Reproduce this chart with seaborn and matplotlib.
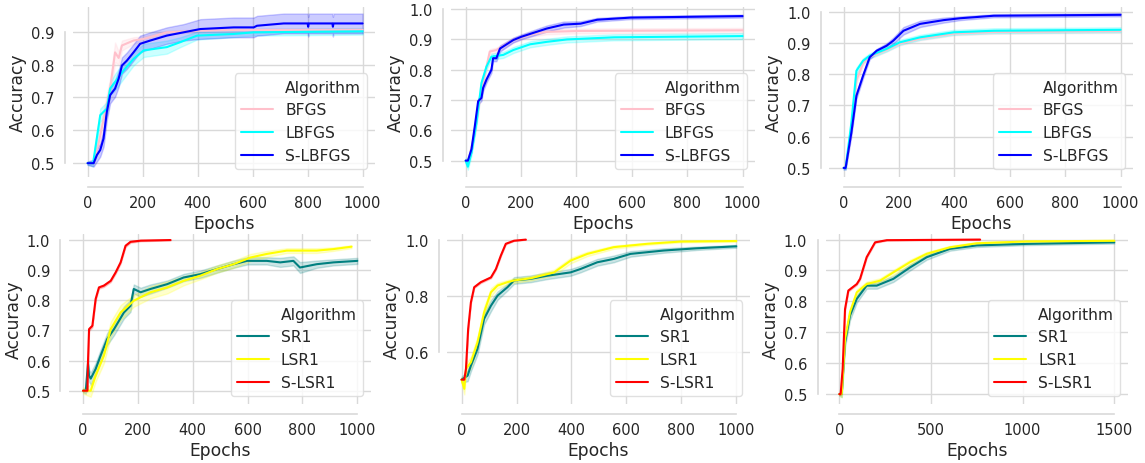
import numpy as np
import pandas as pd
import matplotlib
matplotlib.use("Agg")
import matplotlib.pyplot as plt
from matplotlib.lines import Line2D
import seaborn as sns

# ---------------- data ----------------
# Panel 1 (top-left)
p1_bfgs_x = [0, 20, 40, 60, 82, 100, 113, 125, 167, 204, 288, 410, 600, 1000]
p1_bfgs_y = [0.5, 0.5, 0.56, 0.64, 0.727, 0.837, 0.82, 0.858, 0.873, 0.878, 0.898, 0.903, 0.905, 0.906]
p1_bfgs_s = [0.005, 0.01, 0.02, 0.03, 0.03, 0.03, 0.02, 0.015, 0.01, 0.008, 0.005, 0.004, 0.004, 0.004]
p1_lbfgs_x = [0, 20, 46, 70, 82, 100, 131, 167, 204, 288, 337, 398, 531, 604, 1000]
p1_lbfgs_y = [0.5, 0.5, 0.646, 0.666, 0.727, 0.747, 0.782, 0.817, 0.843, 0.853, 0.868, 0.888, 0.893, 0.898, 0.901]
p1_lbfgs_s = [0.005, 0.01, 0.02, 0.02, 0.02, 0.025, 0.025, 0.02, 0.02, 0.02, 0.015, 0.012, 0.01, 0.01, 0.01]
p1_slbfgs_x = [0, 22, 34, 46, 58, 70, 82, 100, 113, 125, 143, 167, 191, 228, 288, 349, 410, 531, 604, 616, 713, 800, 802, 804, 890, 892, 894, 1000]
p1_slbfgs_y = [0.5, 0.5, 0.525, 0.54, 0.575, 0.656, 0.707, 0.727, 0.757, 0.797, 0.812, 0.837, 0.863, 0.873, 0.888, 0.898, 0.908, 0.913, 0.913, 0.918, 0.925, 0.925, 0.915, 0.925, 0.925, 0.915, 0.925, 0.925]
p1_slbfgs_s = [0.005, 0.01, 0.02, 0.02, 0.025, 0.025, 0.025, 0.025, 0.025, 0.025, 0.025, 0.025, 0.025, 0.025, 0.025, 0.025, 0.03, 0.03, 0.03, 0.03, 0.03, 0.03, 0.03, 0.03, 0.03, 0.03, 0.03, 0.03]

# Panel 2 (top-middle)
p2_bfgs_x = [0, 10, 33, 51, 75, 87, 111, 172, 233, 293, 415, 1000]
p2_bfgs_y = [0.5, 0.5, 0.593, 0.70, 0.81, 0.86, 0.865, 0.898, 0.916, 0.925, 0.928, 0.930]
p2_bfgs_s = [0.005, 0.01, 0.01, 0.01, 0.01, 0.008, 0.008, 0.008, 0.008, 0.008, 0.008, 0.008]
p2_lbfgs_x = [0, 8, 21, 39, 57, 75, 93, 136, 172, 233, 293, 366, 536, 1000]
p2_lbfgs_y = [0.5, 0.48, 0.527, 0.625, 0.756, 0.81, 0.843, 0.849, 0.865, 0.884, 0.892, 0.90, 0.907, 0.911]
p2_lbfgs_s = [0.01, 0.01, 0.01, 0.01, 0.01, 0.01, 0.01, 0.01, 0.01, 0.01, 0.01, 0.01, 0.01, 0.01]
p2_slbfgs_x = [0, 8, 21, 33, 45, 57, 63, 75, 93, 99, 111, 124, 172, 202, 293, 354, 415, 475, 596, 1000]
p2_slbfgs_y = [0.5, 0.5, 0.538, 0.614, 0.696, 0.707, 0.74, 0.767, 0.80, 0.838, 0.838, 0.87, 0.898, 0.909, 0.936, 0.949, 0.952, 0.965, 0.972, 0.977]
p2_slbfgs_s = [0.005, 0.005, 0.01, 0.01, 0.01, 0.01, 0.01, 0.01, 0.01, 0.01, 0.01, 0.01, 0.008, 0.008, 0.01, 0.01, 0.008, 0.006, 0.005, 0.005]

# Panel 3 (top-right)
p3_bfgs_x = [0, 7, 28, 46, 70, 94, 155, 203, 276, 397, 542, 1000]
p3_bfgs_y = [0.5, 0.5, 0.62, 0.78, 0.835, 0.855, 0.878, 0.898, 0.914, 0.930, 0.935, 0.938]
p3_bfgs_s = [0.005, 0.005, 0.01, 0.01, 0.008, 0.006, 0.006, 0.006, 0.006, 0.006, 0.006, 0.006]
p3_lbfgs_x = [0, 7, 28, 46, 70, 94, 155, 203, 276, 397, 542, 1000]
p3_lbfgs_y = [0.5, 0.5, 0.646, 0.811, 0.843, 0.859, 0.881, 0.902, 0.918, 0.934, 0.939, 0.942]
p3_lbfgs_s = [0.005, 0.005, 0.01, 0.01, 0.008, 0.008, 0.008, 0.008, 0.008, 0.008, 0.008, 0.008]
p3_slbfgs_x = [0, 7, 28, 46, 70, 94, 119, 155, 179, 216, 276, 361, 421, 542, 1000]
p3_slbfgs_y = [0.5, 0.5, 0.614, 0.731, 0.795, 0.854, 0.875, 0.891, 0.907, 0.939, 0.961, 0.973, 0.979, 0.987, 0.99]
p3_slbfgs_s = [0.005, 0.005, 0.01, 0.01, 0.008, 0.006, 0.006, 0.008, 0.01, 0.012, 0.01, 0.008, 0.006, 0.005, 0.005]

# Panel 4 (bottom-left)
p4_sr1_x = [0, 10, 18, 22, 28, 46, 64, 88, 113, 149, 173, 185, 210, 246, 307, 367, 428, 489, 549, 598, 670, 719, 767, 791, 852, 913, 1000]
p4_sr1_y = [0.5, 0.5, 0.59, 0.55, 0.54, 0.572, 0.616, 0.671, 0.704, 0.759, 0.781, 0.837, 0.826, 0.837, 0.853, 0.875, 0.886, 0.903, 0.919, 0.93, 0.93, 0.925, 0.93, 0.908, 0.919, 0.925, 0.93]
p4_sr1_s = [0.005, 0.01, 0.02, 0.02, 0.02, 0.02, 0.02, 0.02, 0.02, 0.02, 0.02, 0.015, 0.015, 0.015, 0.012, 0.012, 0.012, 0.012, 0.012, 0.012, 0.012, 0.015, 0.015, 0.018, 0.012, 0.01, 0.01]
p4_lsr1_x = [0, 28, 46, 76, 101, 137, 185, 246, 307, 367, 428, 489, 549, 610, 670, 743, 852, 913, 979]
p4_lsr1_y = [0.5, 0.5, 0.55, 0.616, 0.704, 0.759, 0.798, 0.826, 0.842, 0.864, 0.881, 0.903, 0.919, 0.941, 0.953, 0.964, 0.964, 0.969, 0.977]
p4_lsr1_s = [0.01, 0.02, 0.02, 0.025, 0.025, 0.025, 0.02, 0.02, 0.02, 0.015, 0.012, 0.012, 0.012, 0.012, 0.01, 0.008, 0.008, 0.006, 0.005]
p4_slsr1_x = [0, 16, 18, 22, 34, 46, 58, 76, 101, 119, 137, 155, 173, 210, 319]
p4_slsr1_y = [0.5, 0.5, 0.594, 0.704, 0.715, 0.804, 0.842, 0.848, 0.864, 0.892, 0.925, 0.98, 0.993, 0.997, 0.999]
p4_slsr1_s = [0.002, 0.002, 0.005, 0.005, 0.005, 0.005, 0.004, 0.004, 0.004, 0.004, 0.004, 0.004, 0.003, 0.002, 0.001]

# Panel 5 (bottom-middle)
p5_sr1_x = [0, 22, 34, 58, 82, 107, 131, 167, 191, 252, 312, 397, 433, 494, 554, 615, 736, 857, 1000]
p5_sr1_y = [0.5, 0.514, 0.55, 0.61, 0.717, 0.764, 0.80, 0.83, 0.854, 0.86, 0.871, 0.883, 0.895, 0.919, 0.931, 0.949, 0.961, 0.969, 0.976]
p5_sr1_s = [0.01, 0.02, 0.02, 0.02, 0.02, 0.02, 0.015, 0.012, 0.012, 0.012, 0.012, 0.012, 0.012, 0.012, 0.012, 0.01, 0.008, 0.006, 0.005]
p5_lsr1_x = [0, 10, 16, 34, 58, 82, 107, 131, 167, 191, 252, 337, 397, 458, 554, 676, 797, 1000]
p5_lsr1_y = [0.5, 0.467, 0.538, 0.562, 0.633, 0.74, 0.812, 0.836, 0.848, 0.854, 0.862, 0.883, 0.925, 0.949, 0.973, 0.985, 0.993, 0.995]
p5_lsr1_s = [0.01, 0.02, 0.02, 0.02, 0.02, 0.02, 0.015, 0.01, 0.008, 0.008, 0.008, 0.01, 0.01, 0.008, 0.006, 0.004, 0.003, 0.003]
p5_slsr1_x = [0, 10, 16, 24, 34, 46, 70, 107, 125, 143, 161, 191, 234]
p5_slsr1_y = [0.5, 0.5, 0.538, 0.681, 0.776, 0.83, 0.848, 0.865, 0.895, 0.943, 0.985, 0.996, 1.0]
p5_slsr1_s = [0.002, 0.002, 0.004, 0.004, 0.004, 0.003, 0.003, 0.003, 0.003, 0.003, 0.002, 0.001, 0.0]

# Panel 6 (bottom-right)
p6_sr1_x = [0, 13, 31, 58, 95, 149, 204, 295, 386, 477, 604, 750, 1023, 1500]
p6_sr1_y = [0.5, 0.5, 0.667, 0.754, 0.808, 0.851, 0.851, 0.873, 0.91, 0.943, 0.97, 0.981, 0.986, 0.991]
p6_sr1_s = [0.005, 0.01, 0.015, 0.015, 0.012, 0.01, 0.01, 0.01, 0.01, 0.008, 0.006, 0.005, 0.004, 0.004]
p6_lsr1_x = [0, 13, 31, 58, 95, 149, 222, 295, 386, 477, 604, 750, 1023, 1500]
p6_lsr1_y = [0.5, 0.5, 0.678, 0.765, 0.829, 0.856, 0.867, 0.894, 0.927, 0.954, 0.975, 0.988, 0.994, 0.996]
p6_lsr1_s = [0.005, 0.01, 0.012, 0.012, 0.01, 0.008, 0.008, 0.008, 0.008, 0.006, 0.005, 0.004, 0.003, 0.003]
p6_slsr1_x = [0, 7, 18, 31, 49, 95, 113, 149, 195, 259, 768]
p6_slsr1_y = [0.5, 0.5, 0.581, 0.775, 0.835, 0.856, 0.873, 0.943, 0.991, 0.998, 1.0]
p6_slsr1_s = [0.002, 0.002, 0.004, 0.004, 0.003, 0.003, 0.003, 0.003, 0.002, 0.001, 0.0]

bfgs_names = ["BFGS", "LBFGS", "S-LBFGS"]
sr1_names = ["SR1", "LSR1", "S-LSR1"]
bfgs_palette = {"BFGS": "pink", "LBFGS": "cyan", "S-LBFGS": "blue"}
sr1_palette = {"SR1": "teal", "LSR1": "yellow", "S-LSR1": "red"}

panels = [
    (bfgs_names, [(p1_bfgs_x, p1_bfgs_y, p1_bfgs_s), (p1_lbfgs_x, p1_lbfgs_y, p1_lbfgs_s), (p1_slbfgs_x, p1_slbfgs_y, p1_slbfgs_s)], bfgs_palette),
    (bfgs_names, [(p2_bfgs_x, p2_bfgs_y, p2_bfgs_s), (p2_lbfgs_x, p2_lbfgs_y, p2_lbfgs_s), (p2_slbfgs_x, p2_slbfgs_y, p2_slbfgs_s)], bfgs_palette),
    (bfgs_names, [(p3_bfgs_x, p3_bfgs_y, p3_bfgs_s), (p3_lbfgs_x, p3_lbfgs_y, p3_lbfgs_s), (p3_slbfgs_x, p3_slbfgs_y, p3_slbfgs_s)], bfgs_palette),
    (sr1_names, [(p4_sr1_x, p4_sr1_y, p4_sr1_s), (p4_lsr1_x, p4_lsr1_y, p4_lsr1_s), (p4_slsr1_x, p4_slsr1_y, p4_slsr1_s)], sr1_palette),
    (sr1_names, [(p5_sr1_x, p5_sr1_y, p5_sr1_s), (p5_lsr1_x, p5_lsr1_y, p5_lsr1_s), (p5_slsr1_x, p5_slsr1_y, p5_slsr1_s)], sr1_palette),
    (sr1_names, [(p6_sr1_x, p6_sr1_y, p6_sr1_s), (p6_lsr1_x, p6_lsr1_y, p6_lsr1_s), (p6_slsr1_x, p6_slsr1_y, p6_slsr1_s)], sr1_palette),
]

# ---------------- style ----------------
sns.set_theme(style="whitegrid")
plt.rcParams.update({
    "font.family": ["DejaVu Sans"],
    "xtick.labelsize": 10.5,
    "ytick.labelsize": 10.5,
    "axes.labelsize": 12.3,
    "legend.fontsize": 11.2,
    "xtick.major.size": 0,
    "ytick.major.size": 0,
    "xtick.major.pad": 5.5,
    "ytick.major.pad": 7.5,
    "axes.labelpad": 3.0,
    "text.color": ".15",
    "axes.labelcolor": ".15",
    "xtick.color": ".15",
    "ytick.color": ".15",
    "grid.color": ".85",
    "axes.edgecolor": ".85",
})

W, H = 1145, 464
fig = plt.figure(figsize=(W / 100, H / 100), dpi=100)

# axes boxes in pixels: left, right, top, bottom
boxes = [
    (73, 375, 8, 178), (451, 755, 8, 178), (829, 1133, 8, 178),
    (68.5, 371, 235, 405), (447, 750, 235, 405), (825.6, 1128, 235, 405),
]
ylims = [(0.458, 0.975), (0.446, 1.007), (0.471, 1.015),
         (0.456, 1.019), (0.413, 1.02), (0.468, 1.018)]
xlims = [(-53, 1045), (-53, 1045), (-53, 1045), (-53, 1050), (-53, 1050), (-75, 1575)]
yticks = [[0.5, 0.6, 0.7, 0.8, 0.9], [0.5, 0.6, 0.7, 0.8, 0.9, 1.0], [0.5, 0.6, 0.7, 0.8, 0.9, 1.0],
          [0.5, 0.6, 0.7, 0.8, 0.9, 1.0], [0.6, 0.8, 1.0], [0.5, 0.6, 0.7, 0.8, 0.9, 1.0]]
xticks = [[0, 200, 400, 600, 800, 1000]] * 5 + [[0, 500, 1000, 1500]]

for i, (names, series, pal) in enumerate(panels):
    l, r, t, b = boxes[i]
    ax = fig.add_axes([l / W, (H - b) / H, (r - l) / W, (b - t) / H])
    rows = []
    for name, (xs, ys, ss) in zip(names, series):
        for x, y, s in zip(xs, ys, ss):
            rows.append((name, x, y - s))
            rows.append((name, x, y))
            rows.append((name, x, y + s))
    df = pd.DataFrame(rows, columns=["Algorithm", "Epochs", "Accuracy"])
    sns.lineplot(data=df, x="Epochs", y="Accuracy", hue="Algorithm",
                 hue_order=names, palette=pal, errorbar=("pi", 100),
                 linewidth=1.5, ax=ax)
    ax.set_xlim(*xlims[i])
    ax.set_ylim(*ylims[i])
    ax.set_xticks(xticks[i])
    ax.set_yticks(yticks[i])
    ax.set_yticklabels([f"{v:.1f}" for v in yticks[i]])
    for sp in ["top", "right"]:
        ax.spines[sp].set_visible(False)
    ax.spines["left"].set_position(("outward", 5.8))
    ax.spines["bottom"].set_position(("outward", 7.2))
    ax.spines["left"].set_bounds(yticks[i][0], yticks[i][-1])
    ax.spines["bottom"].set_bounds(xticks[i][0], xticks[i][-1])
    ax.spines["left"].set_linewidth(1.2)
    ax.spines["bottom"].set_linewidth(1.2)

    h, lab = ax.get_legend_handles_labels()
    blank = Line2D([], [], color="none")
    ax.legend([blank] + h, ["Algorithm"] + lab, loc="lower right",
              frameon=True, edgecolor=".85", handlelength=2.0)

fig.savefig("out.png", dpi=100, facecolor="white")
